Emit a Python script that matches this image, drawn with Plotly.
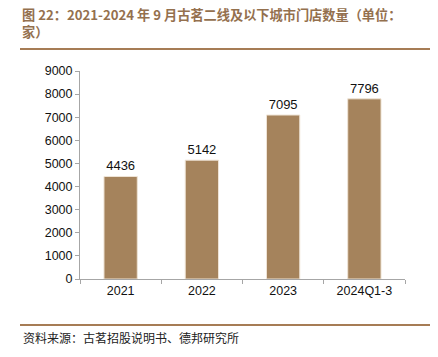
import plotly.graph_objects as go

categories = ["2021", "2022", "2023", "2024Q1-3"]
stores = [4436, 5142, 7095, 7796]
y_ticks = [0, 1000, 2000, 3000, 4000, 5000, 6000, 7000, 8000, 9000]

title_line1 = "图 22：2021-2024 年 9 月古茗二线及以下城市门店数量（单位："
title_line2 = "家）"
source_text = "资料来源：古茗招股说明书、德邦研究所"

# page body has an 8px margin; work in screen pixels and shift
OFF = 8
W, H = 438 - OFF, 357 - OFF
L, R, T, B = 80 - OFF, 438 - 405, 71 - OFF, 357 - 279
pw, ph = W - L - R, H - T - B

def px(x):
    return (x - OFF - L) / pw

def py(y):
    return (H - B - (y - OFF)) / ph

fig = go.Figure()
fig.add_trace(go.Bar(
    x=categories, y=stores,
    marker=dict(color="#A5835C", line=dict(color="#EFE4D6", width=1)),
    text=[str(v) for v in stores], textposition="outside",
    textfont=dict(family="Liberation Sans, Arial", size=13, color="#111"),
    cliponaxis=False, width=0.41,
))

axis_font = dict(family="Liberation Sans, Arial", size=12.5, color="#111")
fig.update_layout(
    width=W, height=H,
    margin=dict(l=L, r=R, t=T, b=B),
    paper_bgcolor="white", plot_bgcolor="white",
    showlegend=False,
    xaxis=dict(showline=True, linecolor="#A6A6A6", linewidth=1,
               ticks="outside", tickson="boundaries", ticklen=4, tickcolor="#A6A6A6",
               tickfont=axis_font, showgrid=False),
    yaxis=dict(range=[0, 9000], tickvals=y_ticks, showline=True, linecolor="#A6A6A6",
               linewidth=1, ticks="outside", ticklen=4, tickcolor="#A6A6A6",
               tickfont=axis_font, showgrid=False, zeroline=False),
)

title_font = dict(family="Noto Sans CJK SC", size=13.2, color="#94704E")
fig.add_annotation(text="<b>" + title_line1 + "<br>" + title_line2 + "</b>",
                   xref="paper", yref="paper",
                   x=px(21), y=py(4), xanchor="left", yanchor="top", align="left",
                   showarrow=False, font=title_font, borderpad=0)
fig.add_annotation(text=source_text, xref="paper", yref="paper",
                   x=px(21), y=py(337), xanchor="left", yanchor="middle",
                   showarrow=False,
                   font=dict(family="Noto Sans CJK SC", size=12, color="#222"))

for yy in (49, 325):
    fig.add_shape(type="line", xref="paper", yref="paper",
                  x0=px(20), x1=px(438), y0=py(yy), y1=py(yy),
                  line=dict(color="#A67C55", width=2))

fig.write_html("out.html")
